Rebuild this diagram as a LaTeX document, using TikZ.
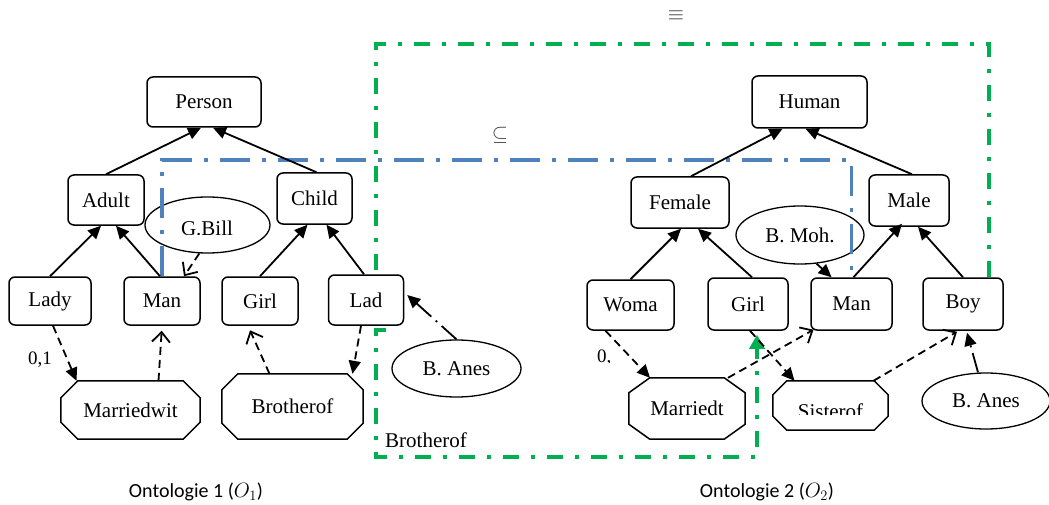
\documentclass[tikz,border=0pt]{standalone}
\usepackage{fontspec}
\setmainfont{Liberation Serif}
\newfontfamily\calibfont{Carlito}
\usetikzlibrary{arrows.meta,shapes.geometric}
\definecolor{ogreen}{HTML}{00B050}
\definecolor{oblue}{HTML}{4F81BD}
\newcommand\octagonframe[3]{%
  \draw[octline] ([xshift=#2]#1.north west) -- ([xshift=-#2]#1.north east)
    -- ([yshift=-#3]#1.north east) -- ([yshift=#3]#1.south east)
    -- ([xshift=-#2]#1.south east) -- ([xshift=#2]#1.south west)
    -- ([yshift=#3]#1.south west) -- ([yshift=-#3]#1.north west) -- cycle;}
\begin{document}
\begin{tikzpicture}[x=1pt,y=-1pt,
  txt/.style={font=\fontsize{21}{25}\selectfont},
  cls/.style={draw, line width=1.5pt, rounded corners=6pt, fill=white, inner sep=0pt, txt},
  rel/.style={inner sep=0pt, txt},
  octline/.style={line width=1.5pt},
  agent/.style={ellipse, draw, line width=1.3pt, inner sep=0pt, txt},
  isa/.style={line width=1.8pt, -{Triangle[length=13pt,width=12pt]}},
  prop/.style={line width=1.8pt, dash pattern=on 8pt off 5pt, -{Triangle[length=13pt,width=12pt]}},
  propo/.style={line width=1.8pt, dash pattern=on 8pt off 5pt, -{Straight Barb[length=10pt,width=18pt,line width=1.8pt]}},
  anesline/.style={line width=1.8pt, dash pattern=on 20pt off 6pt on 2pt off 6pt, -{Triangle[length=13pt,width=12pt]}},
  gline/.style={ogreen, line width=3.8pt, dash pattern=on 16pt off 12pt on 4pt off 12pt},
  bline/.style={oblue, line width=3.6pt, dash pattern=on 30pt off 12pt on 4pt off 12pt},
  symb/.style={font=\fontsize{20}{22}\selectfont, text=black!80, inner sep=0pt},
  captext/.style={font=\calibfont\fontsize{20}{24}\selectfont, inner sep=0pt}
]
\useasboundingbox (0,0) rectangle (1049,505);

% ---------- Ontology 1 ----------
\node[cls, minimum width=114pt, minimum height=50pt] (Person) at (204,102) {Person};
\node[cls, minimum width=76pt, minimum height=50pt] (Adult) at (106,200) {Adult};
\node[cls, minimum width=75pt, minimum height=51pt] (Child) at (314.5,198.5) {Child};
\node[cls, minimum width=82pt, minimum height=48pt] (Lady) at (50,301) {Lady};
\node[cls, minimum width=76pt, minimum height=48pt] (Man) at (162,301) {Man};
\node[cls, minimum width=76pt, minimum height=48pt] (Girl) at (260,301) {Girl};
\node[cls, minimum width=75pt, minimum height=50pt] (Lad) at (366,300) {Lad};
\node[rel, minimum width=139pt, minimum height=58pt] (M1) at (130.5,410) {Marriedwit};
\octagonframe{M1}{17pt}{17pt}
\node[rel, minimum width=141pt, minimum height=65pt] (B1) at (292.5,406.5) {Brotherof};
\octagonframe{B1}{16pt}{16pt}
\node[agent, minimum width=129pt, minimum height=57pt] (Anes1) at (456.5,368.5) {B. Anes};
\node[agent, minimum width=125pt, minimum height=56pt] (GBill) at (207.5,225) {};
\begin{scope}
  \clip (140,190) rectangle (275,234.5);
  \node[txt, inner sep=0pt] (GBillt) at (207,228.5) {G.Bill};
\end{scope}
\node[txt, font=\fontsize{19}{22}\selectfont, inner sep=0pt] (z1) at (40,360) {0,1};

% ---------- Ontology 2 ----------
\node[cls, minimum width=115pt, minimum height=52pt] (Human) at (809.5,102) {Human};
\node[cls, minimum width=98pt, minimum height=51pt] (Female) at (680,202.5) {Female};
\node[cls, minimum width=80pt, minimum height=51pt] (Male) at (909,200.5) {Male};
\node[cls, minimum width=87pt, minimum height=50pt] (Woma) at (630.5,305) {Woma};
\node[cls, minimum width=80pt, minimum height=52pt] (Girl2) at (748,304) {Girl};
\node[cls, minimum width=81pt, minimum height=52pt] (Man2) at (851.5,304) {Man};
\node[cls, minimum width=80pt, minimum height=52pt] (Boy) at (963,304) {Boy};
\node[agent, minimum width=128pt, minimum height=58pt] (BMoh) at (800,235) {B. Moh.};
\node[rel, minimum width=116pt, minimum height=61pt] (M2) at (687,408.5) {Marriedt};
\octagonframe{M2}{21pt}{15pt}
\node[rel, minimum width=115pt, minimum height=49pt] (S2) at (830.5,405.5) {};
\octagonframe{S2}{14pt}{14pt}
\begin{scope}
  \clip (775,385) rectangle (887,414);
  \node[txt, inner sep=0pt] (S2t) at (830.5,411) {Sisterof};
\end{scope}
\node[agent, minimum width=128pt, minimum height=56pt] (Anes2) at (986,401) {B. Anes};
\begin{scope}
  \clip (590,340) rectangle (611,362);
  \node[txt, font=\fontsize{19}{22}\selectfont, inner sep=0pt, anchor=west] (z2) at (597,358) {0,1};
\end{scope}

% ---------- mapping frames ----------
\draw[bline] (Man.north) -- (162,160) -- (851.5,160) -- (Man2.north);
\draw[gline] ([xshift=26pt]Boy.north) -- (989,44) -- (376,44) -- ([xshift=10pt]Lad.north);
\draw[gline, -{Triangle[length=14pt,width=15pt]}, shorten >=4pt]
  ([xshift=20pt,yshift=-4pt]Lad.south) -- ([xshift=10pt,yshift=-4pt]Lad.south)
  -- (376,457) -- (757,457) -- ([xshift=9pt]Girl2.south);

% ---------- connectors, ontology 1 ----------
\draw[isa] (Adult.north) -- ([xshift=-3pt]Person.south);
\draw[isa] ([xshift=2pt]Child.north) -- ([xshift=9pt]Person.south);
\draw[isa] (Lady.north) -- ([xshift=-5pt]Adult.south);
\draw[isa] ([xshift=-2pt]Man.north) -- ([xshift=10pt]Adult.south);
\draw[isa] (Girl.north) -- ([xshift=-7pt]Child.south);
\draw[isa] ([xshift=-2pt]Lad.north) -- ([xshift=12pt]Child.south);
\draw[propo] (GBill.254) -- ([xshift=22pt]Man.north);
\draw[prop] ([xshift=3pt]Lady.south) -- ([xshift=-54pt]M1.north);
\draw[propo, shorten >=5pt] ([xshift=28pt]M1.north) -- (Man.south);
\draw[propo, shorten >=5pt] ([xshift=-23pt]B1.north) -- ([xshift=-12pt]Girl.south);
\draw[prop] ([xshift=-5pt]Lad.south) -- ([xshift=60pt]B1.north);
\draw[anesline] (Anes1.north) -- ([yshift=5pt,xshift=3pt]Lad.east);

% ---------- connectors, ontology 2 ----------
\draw[isa] ([xshift=11pt]Female.north) -- ([xshift=-27pt]Human.south);
\draw[isa] ([xshift=3pt]Male.north) -- ([xshift=-4pt]Human.south);
\draw[isa] (Woma.north) -- ([xshift=1pt]Female.south);
\draw[isa] ([xshift=4pt]Girl2.north) -- ([xshift=18pt]Female.south);
\draw[isa] ([xshift=2pt]Man2.north) -- ([xshift=-7pt,yshift=3pt]Male.south);
\draw[isa] (Boy.north) -- ([xshift=9pt]Male.south);
\draw[prop] (BMoh.300) -- ([xshift=-20pt]Man2.north);
\draw[prop] ([xshift=-25pt]Woma.south) -- ([xshift=-37pt]M2.north);
\draw[propo] ([xshift=41pt]M2.north) -- ([xshift=-38pt,yshift=1pt]Man2.south);
\draw[prop] ([xshift=2pt]Girl2.south) -- ([xshift=-36pt]S2.north);
\draw[propo] ([xshift=43pt]S2.north) -- ([xshift=-6pt,yshift=-1pt]Boy.south);
\draw[anesline] ([xshift=-8pt]Anes2.north) -- ([xshift=4pt,yshift=-2pt]Boy.south);

\node[txt, inner sep=0pt] (bro) at (426,440) {Brotherof};
\node[symb] (eq) at (676,16) {$\equiv$};
\node[symb] (sub) at (500,135) {$\subseteq$};

\node[captext] (L1) at (196,492) {Ontologie 1 ($O_1$)};
\node[captext] (L2) at (767,492) {Ontologie 2 ($O_2$)};
\end{tikzpicture}
\end{document}
